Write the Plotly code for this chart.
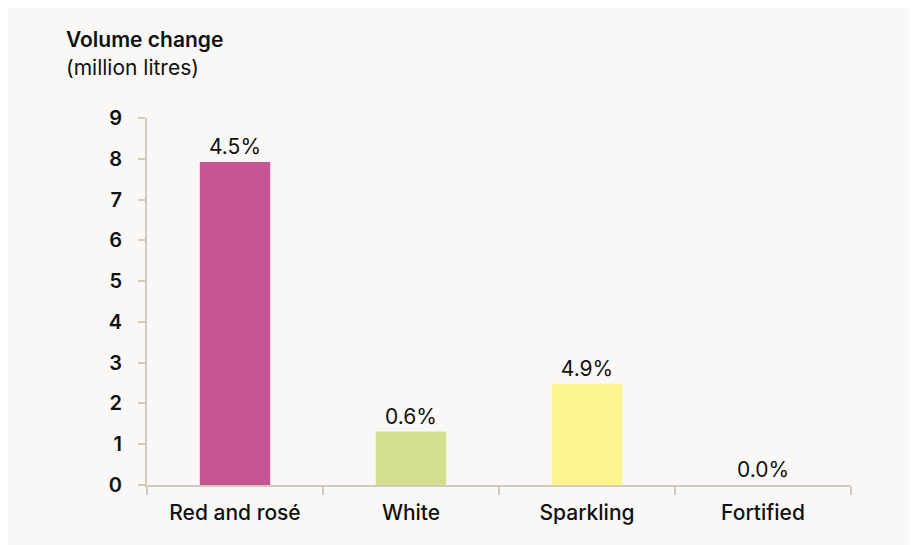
import plotly.graph_objects as go

categories = ["Red and rosé", "White", "Sparkling", "Fortified"]
volume_change = [7.92, 1.31, 2.48, 0.0]
pct_labels = ["4.5%", "0.6%", "4.9%", "0.0%"]
bar_colors = ["#c75495", "#d4df90", "#fff58f", "#f9f8f6"]
y_ticks = list(range(0, 10))

BG = "#f9f8f6"
AXIS = "#d2cabb"
FONT = "Inter, Lato, sans-serif"
INK = "#111111"

# page body adds an 8px margin; the figure itself fills the rest
W, H = 902, 537
L, R, T, B = 139, 59, 110, 60

fig = go.Figure(
    go.Bar(
        x=categories,
        y=volume_change,
        text=pct_labels,
        textposition="outside",
        textfont=dict(family=FONT, size=21, color=INK),
        marker=dict(color=bar_colors, line=dict(width=0)),
        cliponaxis=False,
        hoverinfo="skip",
    )
)

fig.update_layout(
    width=W,
    height=H,
    margin=dict(l=L, r=R, t=T, b=B, pad=0),
    paper_bgcolor=BG,
    plot_bgcolor=BG,
    bargap=0.6,
    showlegend=False,
    font=dict(family=FONT, size=20, color=INK),
    xaxis=dict(
        showline=True,
        linecolor=AXIS,
        linewidth=2,
        ticks="outside",
        tickson="boundaries",
        ticklen=8,
        tickwidth=2,
        tickcolor=AXIS,
        showgrid=False,
        zeroline=False,
        tickfont=dict(family=FONT, size=21, color=INK, weight=500),
        ticklabelstandoff=8,
    ),
    yaxis=dict(
        range=[0, 9],
        tickvals=y_ticks,
        showline=True,
        linecolor=AXIS,
        linewidth=2,
        ticks="outside",
        ticklen=7,
        tickwidth=2,
        tickcolor=AXIS,
        showgrid=False,
        zeroline=False,
        tickfont=dict(family=FONT, size=20, color=INK, weight=600),
        ticklabelstandoff=12,
    ),
)

pw = W - L - R
ph = H - T - B

fig.add_annotation(
    text="Volume change",
    xref="paper", yref="paper",
    x=(56 - L) / pw, y=(H - B - 32) / ph,
    xanchor="left", yanchor="middle",
    showarrow=False,
    font=dict(family=FONT, size=21, color=INK, weight=600),
)
fig.add_annotation(
    text="(million litres)",
    xref="paper", yref="paper",
    x=(56 - L) / pw, y=(H - B - 60) / ph,
    xanchor="left", yanchor="middle",
    showarrow=False,
    font=dict(family=FONT, size=21, color=INK),
)

fig.write_html("out.html")
